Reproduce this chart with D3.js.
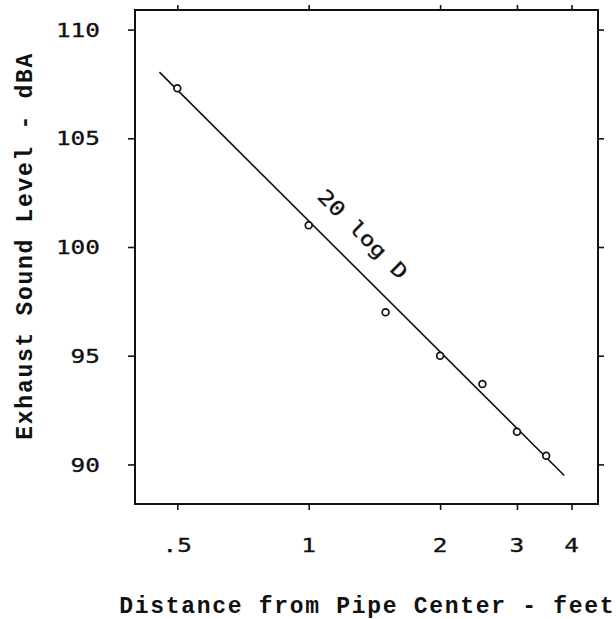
<!DOCTYPE html>
<html>
<head>
<meta charset="utf-8">
<script src="https://cdn.jsdelivr.net/npm/d3@7"></script>
<style>
  html, body { margin: 0; padding: 0; background: #fff; }
  svg { display: block; }
  .tick-label { font-family: "DejaVu Sans Mono", monospace; font-size: 20px; fill: #111; stroke: #111; stroke-width: 0.35px; }
  .axis-title { font-family: "Courier New", "Liberation Mono", monospace; font-size: 23px; font-weight: bold; fill: #111; }
  .note { font-family: "DejaVu Sans Mono", monospace; font-size: 20px; fill: #111; stroke: #111; stroke-width: 0.35px; }
</style>
</head>
<body>
<script>
// Exhaust sound level versus distance from the pipe centre
const distances = [0.5, 1, 1.5, 2, 2.5, 3, 3.5];          // feet
const levels    = [107.3, 101.0, 97.0, 95.0, 93.7, 91.5, 90.4]; // dBA

const xTickValues = [0.5, 1, 2, 3, 4];
const xTickLabels = [".5", "1", "2", "3", "4"];
const yTickValues = [90, 95, 100, 105, 110];

// Inverse-distance law: L = L1 - 20 log10(D)
const fitIntercept = 101.2;
const fitSlope = 20;
const fitSpan = [0.455, 3.85];

const W = 616, H = 619;
const frame = { left: 135, right: 598, top: 10, bottom: 504 };

const svg = d3.select("body").append("svg").attr("width", W).attr("height", H);

const x = d3.scaleLog().domain([0.4, 4.6]).range([frame.left, frame.right]);
const y = d3.scaleLinear().domain([88.18, 110.9]).range([frame.bottom, frame.top]);

const ink = "#111";
const widen = 1.22; // horizontal stretch for the wide typewriter digits

// Axes: ticks point outward on all four sides, labels only left and bottom
const axisBottom = d3.axisBottom(x).tickValues(xTickValues).tickSize(6).tickFormat("");
const axisTop = d3.axisTop(x).tickValues(xTickValues).tickSize(5).tickFormat("");
const axisLeft = d3.axisLeft(y).tickValues(yTickValues).tickSize(7).tickFormat("");
const axisRight = d3.axisRight(y).tickValues(yTickValues).tickSize(6).tickFormat("");

function styleAxis(g) {
  g.select(".domain").remove();
  g.selectAll(".tick line").attr("stroke", ink).attr("stroke-width", 1.6);
}
svg.append("g").attr("transform", `translate(0,${frame.bottom})`).call(axisBottom).call(styleAxis);
svg.append("g").attr("transform", `translate(0,${frame.top})`).call(axisTop).call(styleAxis);
svg.append("g").attr("transform", `translate(${frame.left},0)`).call(axisLeft).call(styleAxis);
svg.append("g").attr("transform", `translate(${frame.right},0)`).call(axisRight).call(styleAxis);

// Plot frame
svg.append("rect")
  .attr("x", frame.left).attr("y", frame.top)
  .attr("width", frame.right - frame.left).attr("height", frame.bottom - frame.top)
  .attr("fill", "none").attr("stroke", ink).attr("stroke-width", 2);

// Tick labels
svg.append("g").selectAll("text").data(yTickValues).join("text")
  .attr("class", "tick-label")
  .attr("transform", d => `translate(100,${y(d)}) scale(${widen},1)`)
  .attr("dy", "0.36em")
  .attr("text-anchor", "end")
  .text(d => d);

svg.append("g").selectAll("text").data(xTickValues).join("text")
  .attr("class", "tick-label")
  .attr("transform", d => `translate(${x(d)},552) scale(${widen},1)`)
  .attr("text-anchor", "middle")
  .text((d, i) => xTickLabels[i]);

// Axis titles
const tls = 1.7;
svg.append("text")
  .attr("class", "axis-title")
  .attr("x", (frame.left + frame.right) / 2 + tls / 2).attr("y", 613)
  .attr("text-anchor", "middle")
  .style("letter-spacing", tls + "px")
  .text("Distance from Pipe Center - feet");

svg.append("text")
  .attr("class", "axis-title")
  .attr("transform", `translate(32,${245 + tls / 2}) rotate(-90)`)
  .attr("text-anchor", "middle")
  .style("letter-spacing", tls + "px")
  .text("Exhaust Sound Level - dBA");

// Fitted line
const fitLevel = d => fitIntercept - fitSlope * Math.log10(d);
const fitPts = fitSpan.map(d => [x(d), y(fitLevel(d))]);
svg.append("path")
  .attr("d", d3.line()(fitPts))
  .attr("fill", "none").attr("stroke", ink).attr("stroke-width", 1.6);

// Measured points
svg.append("g").selectAll("circle").data(distances).join("circle")
  .attr("cx", d => x(d))
  .attr("cy", (d, i) => y(levels[i]))
  .attr("r", 3.4)
  .attr("fill", "#fff").attr("stroke", ink).attr("stroke-width", 1.7);

// Line annotation, set parallel to the fitted line
const angle = Math.atan2(fitPts[1][1] - fitPts[0][1], fitPts[1][0] - fitPts[0][0]) * 180 / Math.PI;
svg.append("text")
  .attr("class", "note")
  .attr("transform", `translate(363,234) rotate(${angle}) scale(${widen},1)`)
  .attr("text-anchor", "middle")
  .attr("dy", "0.36em")
  .text("20 log D");
</script>
</body>
</html>
